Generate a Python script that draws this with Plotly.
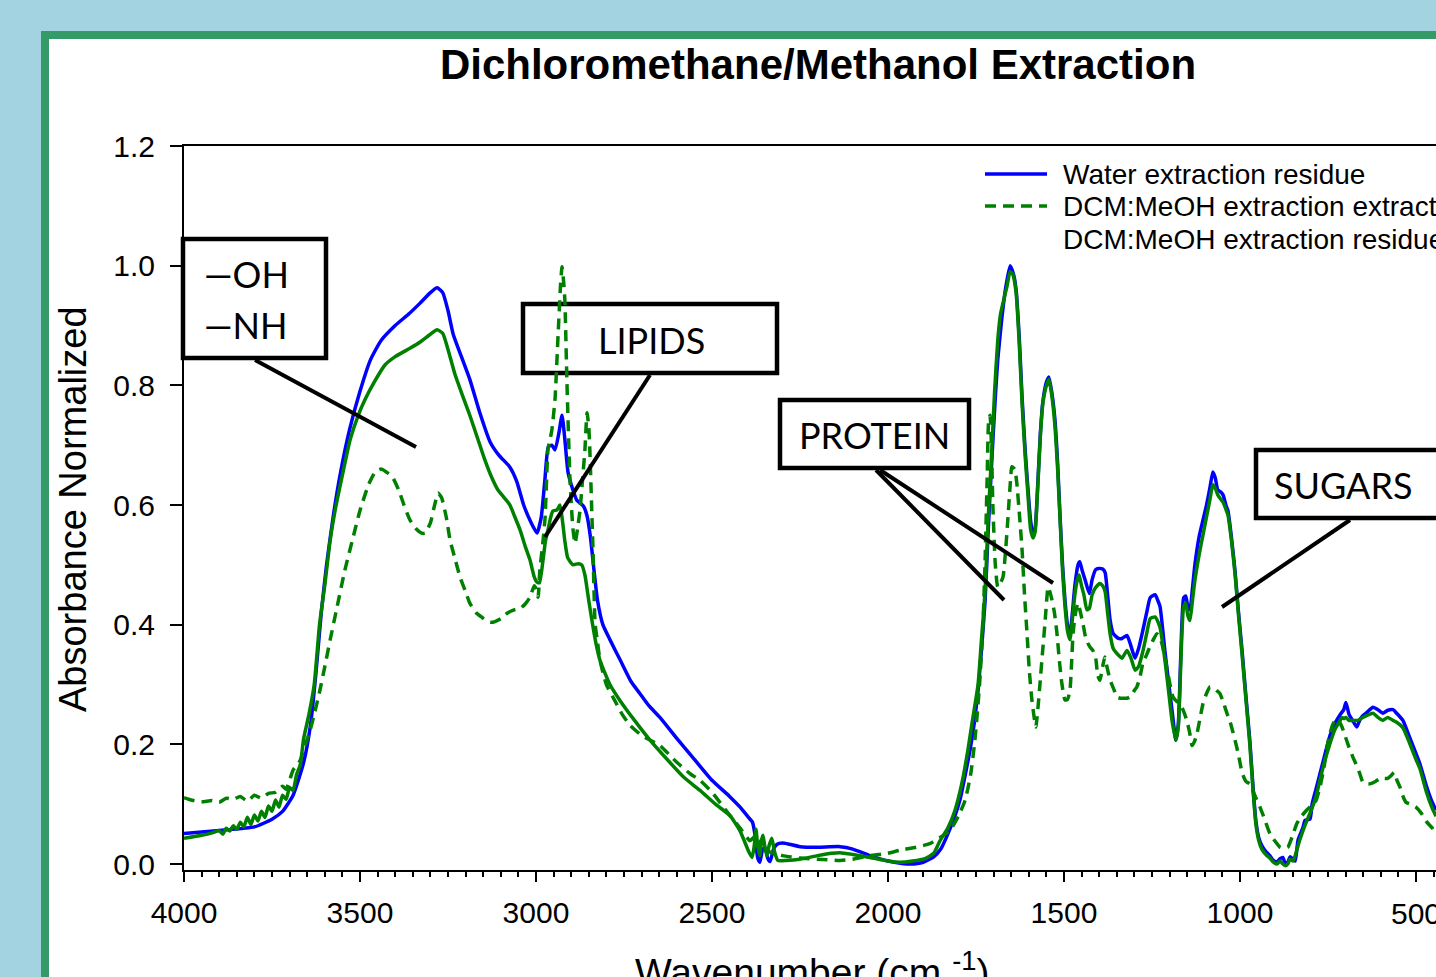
import plotly.graph_objects as go

# ---------------- data ----------------
blue_wn = [4000,3900,3800,3750,3720,3690,3660,3640,3625,3610,3595,3575,3555,3530,3500,3470,3440,3400,3360,3330,3300,3281,3265,3250,3235,3210,3188,3160,3130,3105,3075,3055,3035,3015,2997,2985,2975,2965,2955,2946,2935,2926,2918,2909,2895,2884,2865,2855,2845,2835,2825,2810,2790,2760,2730,2705,2680,2648,2600,2550,2500,2450,2420,2395,2385,2378,2370,2364,2356,2349,2342,2335,2325,2315,2300,2280,2250,2200,2136,2100,2051,2000,1960,1937,1900,1870,1850,1830,1810,1795,1780,1767,1755,1744,1734,1724,1715,1705,1695,1688,1676,1665,1653,1643,1636,1627,1619,1610,1602,1595,1588,1582,1574,1567,1560,1550,1543,1535,1526,1518,1511,1504,1497,1490,1483,1476,1469,1460,1455,1448,1440,1428,1420,1410,1401,1390,1383,1376,1369,1360,1345,1335,1321,1310,1298,1288,1276,1265,1255,1241,1233,1227,1213,1200,1193,1182,1175,1168,1160,1154,1148,1142,1135,1128,1115,1105,1095,1085,1077,1070,1063,1055,1048,1040,1034,1024,1014,1004,994,983,972,963,955,947,938,925,915,905,895,886,878,872,864,858,849,843,835,821,815,801,795,784,773,760,744,730,715,705,699,690,680,668,660,651,640,622,608,594,580,565,555,537,520,500,489,470,455,443]
blue_y = [0.051,0.056,0.062,0.075,0.088,0.115,0.17,0.235,0.32,0.42,0.5,0.585,0.655,0.725,0.79,0.843,0.875,0.9,0.92,0.937,0.955,0.963,0.955,0.925,0.885,0.845,0.81,0.755,0.705,0.683,0.664,0.64,0.6,0.572,0.553,0.58,0.64,0.697,0.7,0.692,0.72,0.75,0.71,0.655,0.625,0.608,0.598,0.582,0.545,0.49,0.44,0.4,0.375,0.34,0.305,0.285,0.265,0.245,0.21,0.175,0.14,0.113,0.095,0.077,0.07,0.05,0.01,0.003,0.025,0.027,0.01,0.004,0.025,0.033,0.035,0.033,0.029,0.028,0.029,0.025,0.014,0.005,0.001,0.0,0.003,0.012,0.025,0.05,0.08,0.108,0.15,0.19,0.235,0.29,0.36,0.44,0.56,0.675,0.78,0.843,0.915,0.965,1.0,0.985,0.96,0.88,0.78,0.69,0.625,0.575,0.55,0.56,0.64,0.72,0.772,0.805,0.814,0.79,0.745,0.67,0.58,0.5,0.44,0.4,0.382,0.42,0.465,0.5,0.505,0.49,0.475,0.452,0.475,0.492,0.494,0.493,0.487,0.45,0.408,0.385,0.377,0.377,0.382,0.365,0.344,0.36,0.39,0.42,0.445,0.45,0.44,0.43,0.355,0.29,0.257,0.207,0.235,0.35,0.445,0.448,0.43,0.425,0.46,0.5,0.55,0.575,0.6,0.63,0.655,0.645,0.625,0.622,0.617,0.6,0.59,0.545,0.49,0.42,0.357,0.28,0.207,0.13,0.073,0.045,0.031,0.02,0.014,0.006,0.003,0.009,0.011,0.002,0.003,0.012,0.008,0.005,0.04,0.061,0.073,0.075,0.1,0.125,0.15,0.18,0.215,0.235,0.25,0.258,0.27,0.25,0.24,0.229,0.24,0.248,0.253,0.262,0.258,0.252,0.257,0.258,0.252,0.24,0.215,0.185,0.168,0.13,0.105,0.09]

extract_wn = [4000,3980,3950,3920,3900,3880,3860,3840,3820,3800,3780,3760,3740,3720,3710,3700,3690,3670,3655,3642,3628,3614,3600,3585,3565,3543,3520,3500,3475,3457,3440,3425,3409,3390,3375,3358,3340,3325,3315,3300,3290,3278,3268,3255,3244,3230,3216,3200,3188,3170,3153,3137,3122,3100,3082,3060,3045,3030,3017,3005,3000,2994,2989,2980,2974,2966,2960,2955,2946,2937,2930,2926,2921,2918,2912,2903,2895,2889,2882,2875,2868,2861,2855,2850,2847,2841,2838,2832,2825,2818,2800,2776,2755,2733,2700,2648,2600,2560,2534,2500,2449,2420,2392,2380,2370,2360,2350,2335,2300,2250,2200,2136,2100,2051,2000,1966,1920,1881,1850,1824,1800,1781,1765,1753,1745,1739,1730,1724,1718,1714,1710,1706,1702,1695,1688,1680,1673,1665,1659,1652,1648,1640,1634,1626,1619,1612,1605,1598,1591,1580,1574,1568,1560,1554,1545,1540,1534,1527,1520,1513,1506,1497,1490,1483,1478,1474,1467,1460,1453,1446,1439,1432,1425,1418,1410,1404,1398,1390,1384,1378,1370,1364,1357,1350,1340,1330,1321,1310,1300,1293,1285,1276,1265,1256,1246,1236,1229,1222,1213,1205,1197,1190,1180,1170,1160,1151,1143,1136,1129,1122,1113,1105,1095,1085,1075,1066,1057,1047,1037,1029,1022,1014,1005,994,983,972,958,943,930,915,900,886,875,864,852,838,825,812,798,784,772,761,754,747,737,727,718,710,700,690,680,671,660,651,641,631,615,602,590,580,570,562,554,545,536,528,515,500,485,469,452,443]
extract_y = [0.111,0.107,0.104,0.106,0.103,0.11,0.108,0.113,0.105,0.115,0.11,0.118,0.12,0.13,0.125,0.14,0.157,0.173,0.2,0.223,0.255,0.29,0.33,0.374,0.43,0.491,0.545,0.591,0.635,0.655,0.66,0.655,0.648,0.625,0.6,0.575,0.56,0.553,0.553,0.57,0.595,0.62,0.612,0.58,0.541,0.51,0.48,0.455,0.436,0.42,0.412,0.405,0.404,0.41,0.419,0.425,0.427,0.435,0.446,0.465,0.46,0.446,0.491,0.54,0.58,0.692,0.71,0.725,0.776,0.887,0.97,0.998,0.97,0.943,0.804,0.637,0.56,0.536,0.56,0.591,0.64,0.692,0.754,0.73,0.692,0.58,0.525,0.402,0.37,0.34,0.3,0.273,0.25,0.232,0.215,0.198,0.17,0.15,0.14,0.12,0.081,0.06,0.039,0.045,0.03,0.04,0.025,0.02,0.014,0.01,0.008,0.006,0.008,0.014,0.018,0.023,0.028,0.034,0.045,0.056,0.08,0.106,0.15,0.207,0.26,0.307,0.4,0.508,0.65,0.74,0.75,0.7,0.6,0.5,0.463,0.47,0.48,0.53,0.58,0.64,0.664,0.66,0.637,0.58,0.525,0.45,0.386,0.32,0.274,0.229,0.26,0.302,0.36,0.402,0.463,0.455,0.441,0.42,0.386,0.34,0.302,0.274,0.275,0.29,0.34,0.386,0.42,0.436,0.42,0.402,0.38,0.369,0.362,0.357,0.345,0.315,0.307,0.33,0.346,0.33,0.31,0.3,0.29,0.279,0.277,0.277,0.277,0.28,0.29,0.296,0.31,0.335,0.35,0.363,0.375,0.385,0.38,0.369,0.345,0.319,0.295,0.279,0.272,0.268,0.255,0.24,0.22,0.198,0.205,0.218,0.245,0.268,0.285,0.296,0.295,0.29,0.285,0.27,0.252,0.24,0.225,0.207,0.185,0.153,0.138,0.134,0.115,0.095,0.075,0.051,0.038,0.028,0.026,0.028,0.045,0.068,0.08,0.089,0.097,0.106,0.13,0.162,0.19,0.212,0.232,0.243,0.238,0.229,0.212,0.195,0.18,0.168,0.152,0.137,0.134,0.134,0.138,0.143,0.143,0.143,0.148,0.153,0.14,0.128,0.112,0.103,0.1,0.095,0.085,0.07,0.059,0.05]

residue_wn = [4000,3950,3920,3900,3890,3880,3870,3860,3850,3840,3830,3820,3810,3800,3790,3780,3770,3760,3750,3740,3730,3720,3710,3700,3690,3680,3670,3660,3645,3630,3615,3600,3585,3571,3550,3528,3505,3486,3460,3429,3400,3358,3330,3301,3281,3265,3250,3230,3210,3188,3165,3145,3125,3108,3090,3074,3060,3045,3030,3017,3005,2997,2990,2980,2973,2966,2958,2952,2940,2932,2925,2918,2910,2895,2880,2870,2861,2850,2841,2830,2818,2790,2761,2720,2676,2620,2580,2534,2490,2449,2420,2395,2386,2380,2375,2370,2364,2359,2355,2350,2344,2338,2330,2322,2313,2290,2250,2200,2160,2136,2100,2051,2000,1966,1930,1895,1870,1852,1830,1810,1790,1773,1760,1744,1735,1724,1715,1705,1697,1688,1680,1671,1662,1653,1645,1636,1627,1619,1610,1602,1595,1588,1582,1574,1567,1560,1552,1543,1535,1526,1518,1511,1504,1497,1490,1483,1476,1469,1462,1457,1450,1443,1435,1428,1420,1410,1398,1390,1383,1376,1369,1360,1345,1335,1321,1310,1298,1288,1276,1265,1255,1241,1233,1227,1213,1200,1193,1182,1175,1168,1160,1154,1148,1142,1135,1128,1115,1105,1095,1085,1077,1070,1063,1055,1048,1040,1034,1024,1014,1004,994,983,972,963,955,947,938,925,915,905,895,886,878,870,864,858,849,840,830,815,801,785,773,760,745,730,715,710,705,699,690,680,665,651,640,622,608,594,580,565,555,537,520,500,489,470,455,443]
residue_y = [0.043,0.048,0.052,0.056,0.05,0.06,0.055,0.064,0.058,0.07,0.062,0.078,0.066,0.082,0.072,0.088,0.078,0.097,0.088,0.107,0.095,0.115,0.108,0.128,0.123,0.15,0.165,0.21,0.25,0.3,0.4,0.466,0.54,0.59,0.65,0.709,0.75,0.776,0.805,0.834,0.848,0.862,0.872,0.885,0.893,0.887,0.86,0.818,0.785,0.75,0.71,0.675,0.645,0.625,0.612,0.6,0.58,0.558,0.53,0.508,0.48,0.471,0.47,0.508,0.54,0.558,0.58,0.59,0.592,0.6,0.575,0.54,0.512,0.5,0.502,0.5,0.483,0.44,0.407,0.37,0.34,0.3,0.273,0.24,0.207,0.17,0.145,0.123,0.1,0.081,0.055,0.02,0.011,0.03,0.058,0.03,0.014,0.04,0.048,0.03,0.014,0.03,0.043,0.02,0.006,0.006,0.008,0.014,0.018,0.019,0.016,0.011,0.005,0.003,0.005,0.009,0.018,0.039,0.06,0.089,0.135,0.19,0.24,0.3,0.37,0.457,0.58,0.692,0.79,0.876,0.92,0.943,0.965,0.99,0.985,0.955,0.87,0.77,0.68,0.615,0.56,0.545,0.555,0.635,0.715,0.77,0.795,0.81,0.785,0.735,0.66,0.575,0.49,0.43,0.39,0.375,0.41,0.45,0.475,0.483,0.465,0.449,0.425,0.427,0.45,0.462,0.469,0.465,0.455,0.42,0.385,0.36,0.349,0.344,0.357,0.345,0.324,0.33,0.355,0.385,0.41,0.413,0.405,0.395,0.34,0.275,0.24,0.207,0.23,0.335,0.43,0.436,0.415,0.407,0.44,0.474,0.52,0.55,0.58,0.61,0.634,0.628,0.617,0.61,0.605,0.593,0.583,0.54,0.485,0.415,0.35,0.275,0.2,0.125,0.068,0.04,0.025,0.015,0.01,0.003,0.0,0.005,0.0,-0.003,0.0,0.008,0.005,0.02,0.04,0.065,0.085,0.11,0.14,0.17,0.2,0.225,0.24,0.245,0.243,0.245,0.24,0.24,0.24,0.245,0.248,0.252,0.245,0.24,0.245,0.24,0.237,0.228,0.205,0.175,0.16,0.12,0.095,0.08]

series_names = ["Water extraction residue", "DCM:MeOH extraction extract", "DCM:MeOH extraction residue"]
x_ticks = [4000, 3500, 3000, 2500, 2000, 1500, 1000, 500]
y_ticks = [0.0, 0.2, 0.4, 0.6, 0.8, 1.0, 1.2]
box_labels = ["—OH", "—NH", "LIPIDS", "PROTEIN", "SUGARS"]

# ---------------- layout helpers (pixel -> paper) ----------------
W, H = 1436, 977
L, R, T, B = 184, 0, 146, 107
PW, PH = W - L - R, H - T - B


def px(x):
    return (x - L) / PW


def py(y):
    return (H - B - y) / PH


BLUE = "#0000ff"
GREEN = "#008000"
AX_FONT = "Liberation Sans, Arial, sans-serif"
BOX_FONT = "Lato, Carlito, Calibri, sans-serif"

fig = go.Figure()
fig.add_trace(go.Scatter(x=blue_wn, y=blue_y, mode="lines", name=series_names[0],
                         line=dict(color=BLUE, width=3.5, shape="spline", smoothing=0.5),
                         showlegend=False))
fig.add_trace(go.Scatter(x=extract_wn, y=extract_y, mode="lines", name=series_names[1],
                         line=dict(color=GREEN, width=3.5, dash="11px,7px", shape="spline", smoothing=0.5),
                         showlegend=False))
fig.add_trace(go.Scatter(x=residue_wn, y=residue_y, mode="lines", name=series_names[2],
                         line=dict(color=GREEN, width=3.5, shape="spline", smoothing=0.5),
                         showlegend=False))

shapes = []
# slide panel with green frame
shapes.append(dict(type="rect", xref="paper", yref="paper", layer="below",
                   x0=px(45), x1=px(1700), y0=py(35), y1=py(1200),
                   fillcolor="white", line=dict(color="#349a68", width=8)))
# callout boxes
for (x0, y0, x1, y1) in [(183, 239, 326, 358), (523, 304, 777, 373), (780, 400, 969, 468), (1256, 450, 1560, 518)]:
    shapes.append(dict(type="rect", xref="paper", yref="paper", layer="below",
                       x0=px(x0), x1=px(x1), y0=py(y0), y1=py(y1),
                       fillcolor="white", line=dict(color="black", width=4.5)))
# leader lines
for (x0, y0, x1, y1) in [(255, 360, 416, 447), (650, 375, 545, 537), (876, 470, 1004, 600),
                         (880, 470, 1053, 583), (1350, 520, 1222, 607)]:
    shapes.append(dict(type="line", xref="paper", yref="paper", layer="above",
                       x0=px(x0), x1=px(x1), y0=py(y0), y1=py(y1),
                       line=dict(color="black", width=4)))
# legend samples
shapes.append(dict(type="line", xref="paper", yref="paper", x0=px(985), x1=px(1047), y0=py(174), y1=py(174),
                   line=dict(color=BLUE, width=3.5)))
shapes.append(dict(type="line", xref="paper", yref="paper", x0=px(985), x1=px(1047), y0=py(206), y1=py(206),
                   line=dict(color=GREEN, width=3.5, dash="11px,7px")))

annotations = []
for i, yy in enumerate([174, 206, 239]):
    annotations.append(dict(xref="paper", yref="paper", x=px(1061), y=py(yy), xanchor="left", yanchor="middle",
                            text=series_names[i], showarrow=False,
                            font=dict(family=AX_FONT, size=28, color="black")))
annotations.append(dict(xref="paper", yref="paper", x=px(202), y=py(274), xanchor="left", yanchor="middle",
                        text=box_labels[0], showarrow=False, font=dict(family=BOX_FONT, size=36, color="black")))
annotations.append(dict(xref="paper", yref="paper", x=px(202), y=py(325), xanchor="left", yanchor="middle",
                        text=box_labels[1], showarrow=False, font=dict(family=BOX_FONT, size=36, color="black")))
annotations.append(dict(xref="paper", yref="paper", x=px(651), y=py(340), xanchor="center", yanchor="middle",
                        text=box_labels[2], showarrow=False, font=dict(family=BOX_FONT, size=36, color="black")))
annotations.append(dict(xref="paper", yref="paper", x=px(874), y=py(435), xanchor="center", yanchor="middle",
                        text=box_labels[3], showarrow=False, font=dict(family=BOX_FONT, size=36, color="black")))
annotations.append(dict(xref="paper", yref="paper", x=px(1272), y=py(485), xanchor="left", yanchor="middle",
                        text=box_labels[4], showarrow=False, font=dict(family=BOX_FONT, size=36, color="black")))
# last x tick label (cut by the page edge in the reference)
annotations.append(dict(xref="x", yref="paper", x=x_ticks[-1], y=py(913), xanchor="center", yanchor="middle",
                        text=str(x_ticks[-1]), showarrow=False,
                        font=dict(family=AX_FONT, size=30, color="black")))
# axis titles
annotations.append(dict(xref="paper", yref="paper", x=px(73), y=py(509), xanchor="center", yanchor="middle",
                        text="Absorbance Normalized", textangle=-90, showarrow=False,
                        font=dict(family=AX_FONT, size=38, color="black")))
annotations.append(dict(xref="paper", yref="paper", x=px(812), y=py(943), xanchor="center", yanchor="top",
                        text="Wavenumber (cm <sup>-1</sup>)", showarrow=False,
                        font=dict(family=AX_FONT, size=39, color="black")))

fig.update_layout(
    width=W, height=H,
    margin=dict(l=L, r=R, t=T, b=B, pad=0),
    paper_bgcolor="#a3d3e0",
    plot_bgcolor="rgba(0,0,0,0)",
    showlegend=False,
    title=dict(text="<b>Dichloromethane/Methanol Extraction</b>", xref="container", yref="container",
               x=818 / W, y=1 - 64 / H, xanchor="center", yanchor="middle",
               font=dict(family=AX_FONT, size=42, color="black")),
    shapes=shapes,
    annotations=annotations,
    xaxis=dict(range=[4000, 443], tickvals=x_ticks, ticktext=[str(v) for v in x_ticks],
               showline=True, linecolor="black", linewidth=2, mirror=True,
               ticks="outside", ticklen=10, tickwidth=2, tickcolor="black",
               ticklabelstandoff=5,
               minor=dict(dtick=50, tick0=0, ticks="outside", ticklen=5, tickwidth=1.5, tickcolor="black"),
               showgrid=False, zeroline=False,
               tickfont=dict(family=AX_FONT, size=30, color="black")),
    yaxis=dict(range=[-0.01, 1.2], tickvals=y_ticks, ticktext=["%.1f" % v for v in y_ticks],
               showline=True, linecolor="black", linewidth=2, mirror=False,
               ticks="outside", ticklen=12, tickwidth=2, tickcolor="black",
               ticklabelstandoff=9,
               showgrid=False, zeroline=False,
               tickfont=dict(family=AX_FONT, size=30, color="black")),
)

fig.write_html("out.html")
